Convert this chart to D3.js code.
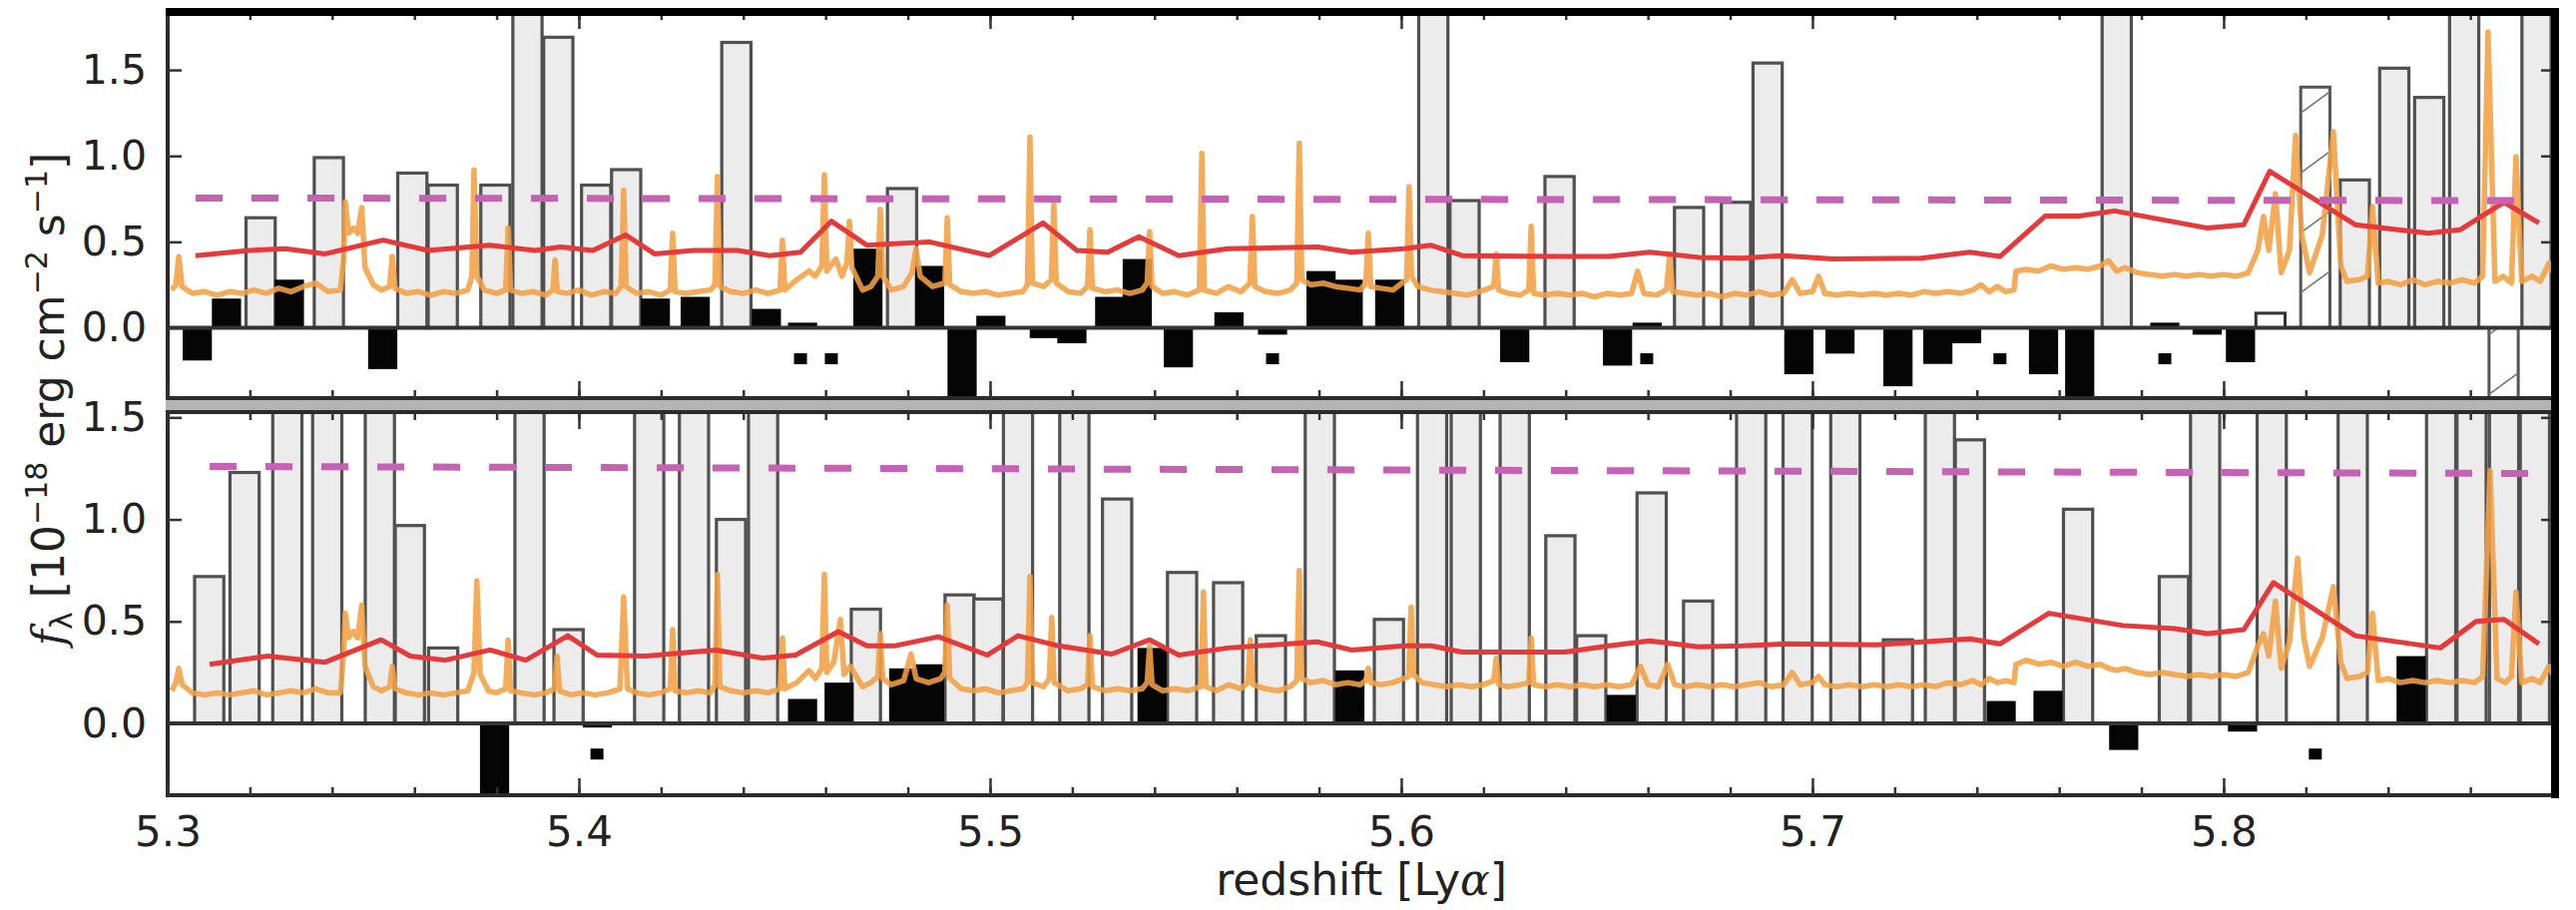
<!DOCTYPE html>
<html>
<head>
<meta charset="utf-8">
<script src="https://cdn.jsdelivr.net/npm/d3@7"></script>
<style>
  body { margin: 0; background: #fff; }
  svg { display: block; }
  text { font-family: "DejaVu Sans", sans-serif; fill: #222; }
</style>
</head>
<body>
<div id="chart"></div>
<script>
// ---- data ------------------------------------------------------------------
var majorTicks = [5.3, 5.4, 5.5, 5.6, 5.7, 5.8];
var majorLabels = ['5.3', '5.4', '5.5', '5.6', '5.7', '5.8'];
var fluxTicks = [0, 0.5, 1.0, 1.5];
var fluxLabels = ['0.0', '0.5', '1.0', '1.5'];

// top panel: bins (redshift centre, flux); off-scale bins given 2.5
var topGrayZ = [5.3226,5.3392,5.3595,5.3669,5.3797,5.3875,5.3950,5.4042,5.4115,5.4383,5.4786,5.6078,5.6154,5.6385,5.6700,5.6814,5.6891,5.7740,5.8319,5.8415,5.8500,5.8585,5.8761];
var topGrayF = [0.64,0.99,0.90,0.83,0.83,2.5,1.69,0.83,0.92,1.66,0.81,2.5,0.74,0.88,0.70,0.73,1.54,2.5,0.86,1.51,1.34,2.5,2.5];
var topBlackZ = [5.3072,5.3143,5.3296,5.3523,5.4186,5.4283,5.4456,5.4544,5.4703,5.4853,5.4932,5.5002,5.5132,5.5199,5.5291,5.5358,5.5458,5.5581,5.5687,5.5805,5.5871,5.5972,5.6276,5.6526,5.6598,5.6967,5.7067,5.7208,5.7305,5.7375,5.7562,5.7650,5.7857,5.7960,5.8041];
var topBlackF = [-0.19,0.17,0.28,-0.24,0.17,0.18,0.11,0.03,0.46,0.36,-0.6,0.07,-0.06,-0.09,0.18,0.40,-0.23,0.09,-0.04,0.33,0.28,0.28,-0.20,-0.22,0.03,-0.27,-0.15,-0.34,-0.21,-0.09,-0.27,-0.6,0.03,-0.04,-0.20];
var topSquareZ = [5.4539,5.4614,5.5687,5.6597,5.7456,5.7857];
var topSquareF = -0.18;
var topOpenZ = [5.8114], topOpenF = [0.085];
var topHatchZ = [5.8223,5.8681], topHatchF = [1.40,-0.6];

// bottom panel
var botGrayZ = [5.3101,5.3187,5.3291,5.3388,5.3516,5.3589,5.3670,5.3880,5.3975,5.4171,5.4280,5.4370,5.4448,5.4698,5.4926,5.4996,5.5068,5.5205,5.5309,5.5467,5.5579,5.5683,5.5802,5.5970,5.6075,5.6157,5.6276,5.6387,5.6462,5.6609,5.6722,5.6851,5.6964,5.7080,5.7208,5.7310,5.7383,5.7646,5.7879,5.7955,5.8117,5.8314,5.8529,5.8603,5.8682,5.8757];
var botGrayF = [0.72,1.23,2.2,2.2,2.2,0.97,0.37,2.2,0.46,2.2,2.2,1.00,2.2,0.56,0.63,0.61,2.2,2.2,1.10,0.74,0.69,0.43,2.2,0.51,2.2,2.2,2.2,0.92,0.43,1.13,0.60,2.2,2.2,2.2,0.41,2.2,1.39,1.05,0.72,2.2,2.2,2.2,2.2,2.2,2.2,2.2];
var botBlackZ = [5.3795,5.4045,5.4544,5.4633,5.4790,5.4853,5.5394,5.5875,5.6535,5.7459,5.7573,5.7757,5.8046,5.8228,5.8456];
var botBlackF = [-0.6,-0.02,0.12,0.20,0.27,0.29,0.37,0.26,0.14,0.11,0.16,-0.13,-0.04,0.01,0.33];
var botSquareZ = [5.4044,5.8223];
var botSquareF = -0.15;

// red curves
var redTopZ = [5.3068,5.3199,5.3286,5.3383,5.3524,5.3633,5.3784,5.3893,5.3956,5.4034,5.4114,5.4184,5.4279,5.4386,5.4464,5.4539,5.4614,5.4701,5.4852,5.4998,5.5129,5.5211,5.5286,5.5362,5.5459,5.5578,5.5796,5.5879,5.6007,5.6073,5.6148,5.6398,5.6505,5.6604,5.6723,5.6830,5.6930,5.7049,5.7265,5.7383,5.7456,5.7566,5.7648,5.7735,5.7961,5.8049,5.8112,5.8320,5.8498,5.8575,5.8682,5.8767];
var redTopF = [0.42,0.45,0.46,0.43,0.51,0.45,0.48,0.45,0.47,0.45,0.54,0.43,0.45,0.45,0.42,0.44,0.62,0.48,0.50,0.42,0.61,0.45,0.44,0.53,0.42,0.46,0.47,0.44,0.46,0.48,0.42,0.415,0.415,0.44,0.41,0.405,0.42,0.40,0.405,0.44,0.415,0.65,0.65,0.68,0.58,0.60,0.91,0.60,0.55,0.57,0.73,0.61];
var redBotZ = [5.3102,5.3243,5.3383,5.3519,5.3590,5.3675,5.3784,5.3871,5.3973,5.4044,5.4163,5.4333,5.4447,5.4527,5.4631,5.4701,5.4767,5.4874,5.4993,5.5068,5.5167,5.5296,5.5388,5.5459,5.5578,5.5796,5.5879,5.6007,5.6073,5.6148,5.6398,5.6505,5.6604,5.6723,5.6830,5.6939,5.7155,5.7383,5.7456,5.7575,5.7755,5.7881,5.7961,5.8049,5.8121,5.8320,5.8527,5.8614,5.8682,5.8767];
var redBotF = [0.29,0.33,0.30,0.41,0.33,0.31,0.36,0.31,0.43,0.335,0.33,0.36,0.32,0.335,0.45,0.38,0.38,0.425,0.335,0.43,0.38,0.34,0.41,0.335,0.37,0.40,0.36,0.38,0.38,0.35,0.35,0.38,0.405,0.375,0.38,0.39,0.385,0.415,0.39,0.54,0.48,0.465,0.44,0.46,0.69,0.43,0.37,0.50,0.51,0.39];

// dashed limits
var limitTopZ = [5.3068,5.8745], limitTopF = [0.755,0.74];
var limitBotZ = [5.3102,5.8765], limitBotF = [1.26,1.225];

// orange sky spectrum [z, f]
var skyTop = [[5.3010,0.22],[5.3020,0.25],[5.3027,0.415],[5.3035,0.24],[5.3060,0.20],[5.3090,0.21],[5.3120,0.19],[5.3150,0.21],[5.3180,0.20],[5.3210,0.22],[5.3240,0.20],[5.3270,0.23],[5.3300,0.21],[5.3330,0.24],[5.3360,0.26],[5.3390,0.21],[5.3420,0.22],[5.3428,0.40],[5.3432,0.734],[5.3440,0.55],[5.3452,0.58],[5.3462,0.55],[5.3472,0.70],[5.3480,0.35],[5.3500,0.25],[5.3520,0.22],[5.3540,0.24],[5.3546,0.415],[5.3553,0.23],[5.3580,0.20],[5.3610,0.21],[5.3640,0.19],[5.3670,0.21],[5.3700,0.20],[5.3730,0.22],[5.3740,0.30],[5.3745,0.919],[5.3752,0.30],[5.3770,0.22],[5.3800,0.20],[5.3822,0.22],[5.3828,0.58],[5.3834,0.22],[5.3860,0.20],[5.3890,0.21],[5.3920,0.19],[5.3937,0.22],[5.3942,0.395],[5.3948,0.21],[5.3970,0.20],[5.4000,0.22],[5.4030,0.19],[5.4060,0.21],[5.4090,0.20],[5.4103,0.24],[5.4109,0.80],[5.4115,0.24],[5.4140,0.20],[5.4170,0.21],[5.4200,0.19],[5.4222,0.22],[5.4228,0.55],[5.4234,0.21],[5.4260,0.20],[5.4290,0.21],[5.4320,0.22],[5.4331,0.25],[5.4337,0.88],[5.4343,0.24],[5.4370,0.21],[5.4400,0.20],[5.4430,0.22],[5.4460,0.20],[5.4489,0.22],[5.4495,0.51],[5.4501,0.22],[5.4530,0.28],[5.4560,0.33],[5.4575,0.30],[5.4591,0.36],[5.4597,0.89],[5.4603,0.33],[5.4625,0.40],[5.4640,0.30],[5.4652,0.38],[5.4658,0.62],[5.4664,0.35],[5.4690,0.22],[5.4710,0.24],[5.4727,0.30],[5.4733,0.69],[5.4739,0.30],[5.4760,0.22],[5.4790,0.24],[5.4810,0.32],[5.4820,0.46],[5.4830,0.30],[5.4860,0.24],[5.4890,0.26],[5.4896,0.64],[5.4902,0.25],[5.4930,0.21],[5.4960,0.20],[5.4990,0.21],[5.5020,0.19],[5.5050,0.20],[5.5080,0.21],[5.5091,0.25],[5.5097,1.11],[5.5103,0.26],[5.5130,0.24],[5.5149,0.28],[5.5155,0.715],[5.5161,0.26],[5.5190,0.21],[5.5220,0.20],[5.5237,0.24],[5.5243,0.57],[5.5249,0.23],[5.5280,0.21],[5.5310,0.22],[5.5340,0.20],[5.5370,0.22],[5.5382,0.26],[5.5388,0.56],[5.5394,0.24],[5.5420,0.20],[5.5450,0.21],[5.5480,0.19],[5.5509,0.22],[5.5515,1.015],[5.5521,0.22],[5.5550,0.20],[5.5580,0.24],[5.5610,0.21],[5.5632,0.26],[5.5638,0.647],[5.5644,0.24],[5.5670,0.21],[5.5700,0.20],[5.5730,0.22],[5.5746,0.26],[5.5752,1.074],[5.5758,0.28],[5.5780,0.25],[5.5810,0.26],[5.5840,0.24],[5.5870,0.23],[5.5900,0.22],[5.5914,0.26],[5.5920,0.55],[5.5926,0.24],[5.5950,0.23],[5.5980,0.22],[5.6013,0.28],[5.6019,0.82],[5.6025,0.30],[5.6040,0.24],[5.6070,0.22],[5.6100,0.21],[5.6130,0.20],[5.6160,0.19],[5.6190,0.21],[5.6225,0.24],[5.6231,0.43],[5.6237,0.22],[5.6260,0.20],[5.6290,0.19],[5.6310,0.22],[5.6316,0.59],[5.6322,0.20],[5.6350,0.19],[5.6380,0.20],[5.6410,0.19],[5.6440,0.20],[5.6470,0.18],[5.6500,0.20],[5.6530,0.19],[5.6560,0.20],[5.6575,0.33],[5.6590,0.20],[5.6620,0.19],[5.6645,0.22],[5.6653,0.43],[5.6660,0.21],[5.6690,0.20],[5.6720,0.19],[5.6750,0.20],[5.6780,0.18],[5.6810,0.20],[5.6840,0.19],[5.6870,0.21],[5.6900,0.19],[5.6930,0.20],[5.6951,0.28],[5.6970,0.20],[5.7000,0.21],[5.7015,0.30],[5.7030,0.20],[5.7060,0.19],[5.7090,0.20],[5.7120,0.19],[5.7150,0.20],[5.7180,0.19],[5.7210,0.20],[5.7240,0.19],[5.7270,0.21],[5.7300,0.20],[5.7330,0.21],[5.7360,0.20],[5.7390,0.22],[5.7410,0.25],[5.7430,0.21],[5.7450,0.24],[5.7470,0.21],[5.7490,0.22],[5.7495,0.33],[5.7520,0.34],[5.7550,0.33],[5.7580,0.36],[5.7610,0.34],[5.7640,0.35],[5.7670,0.34],[5.7700,0.36],[5.7720,0.39],[5.7740,0.33],[5.7760,0.35],[5.7790,0.32],[5.7820,0.31],[5.7850,0.30],[5.7880,0.31],[5.7910,0.30],[5.7940,0.31],[5.7970,0.30],[5.8000,0.31],[5.8030,0.30],[5.8060,0.32],[5.8083,0.45],[5.8097,0.647],[5.8110,0.45],[5.8126,0.78],[5.8140,0.32],[5.8160,0.45],[5.8175,1.12],[5.8190,0.54],[5.8209,0.32],[5.8240,0.54],[5.8267,1.14],[5.8285,0.36],[5.8300,0.27],[5.8330,0.28],[5.8350,0.30],[5.8362,0.705],[5.8376,0.26],[5.8400,0.27],[5.8430,0.25],[5.8460,0.28],[5.8490,0.25],[5.8520,0.27],[5.8550,0.26],[5.8580,0.28],[5.8610,0.26],[5.8630,0.30],[5.8643,1.72],[5.8660,0.27],[5.8680,0.30],[5.8700,0.26],[5.8711,0.996],[5.8725,0.27],[5.8750,0.30],[5.8770,0.27],[5.8791,0.376],[5.8806,0.30]];
var skyBot = [[5.3010,0.16],[5.3020,0.20],[5.3027,0.27],[5.3035,0.19],[5.3060,0.15],[5.3090,0.14],[5.3120,0.15],[5.3150,0.14],[5.3180,0.15],[5.3210,0.16],[5.3240,0.14],[5.3270,0.15],[5.3300,0.16],[5.3330,0.15],[5.3360,0.17],[5.3390,0.15],[5.3420,0.15],[5.3428,0.35],[5.3432,0.54],[5.3440,0.42],[5.3452,0.45],[5.3462,0.42],[5.3472,0.58],[5.3480,0.28],[5.3500,0.18],[5.3520,0.16],[5.3540,0.18],[5.3546,0.28],[5.3553,0.17],[5.3580,0.15],[5.3610,0.14],[5.3640,0.15],[5.3670,0.14],[5.3700,0.15],[5.3730,0.16],[5.3745,0.25],[5.3752,0.70],[5.3760,0.24],[5.3780,0.16],[5.3800,0.15],[5.3822,0.17],[5.3828,0.41],[5.3834,0.16],[5.3860,0.15],[5.3890,0.14],[5.3920,0.15],[5.3941,0.17],[5.3947,0.33],[5.3953,0.16],[5.3980,0.14],[5.4010,0.15],[5.4040,0.14],[5.4070,0.15],[5.4100,0.17],[5.4109,0.62],[5.4118,0.17],[5.4140,0.15],[5.4170,0.14],[5.4200,0.15],[5.4222,0.17],[5.4228,0.46],[5.4234,0.16],[5.4260,0.15],[5.4290,0.16],[5.4320,0.15],[5.4331,0.19],[5.4337,0.73],[5.4343,0.18],[5.4370,0.16],[5.4400,0.15],[5.4430,0.16],[5.4460,0.15],[5.4489,0.17],[5.4495,0.42],[5.4501,0.17],[5.4530,0.20],[5.4560,0.26],[5.4575,0.22],[5.4591,0.27],[5.4597,0.73],[5.4603,0.25],[5.4620,0.30],[5.4636,0.51],[5.4645,0.24],[5.4660,0.28],[5.4690,0.18],[5.4710,0.20],[5.4727,0.23],[5.4733,0.44],[5.4739,0.22],[5.4760,0.19],[5.4790,0.21],[5.4808,0.34],[5.4820,0.22],[5.4850,0.20],[5.4880,0.22],[5.4890,0.25],[5.4896,0.58],[5.4902,0.22],[5.4930,0.17],[5.4960,0.16],[5.4990,0.17],[5.5020,0.15],[5.5050,0.16],[5.5080,0.17],[5.5091,0.20],[5.5097,0.72],[5.5103,0.20],[5.5130,0.18],[5.5144,0.22],[5.5150,0.52],[5.5156,0.20],[5.5190,0.16],[5.5220,0.17],[5.5237,0.19],[5.5243,0.43],[5.5249,0.18],[5.5280,0.16],[5.5310,0.17],[5.5340,0.16],[5.5370,0.17],[5.5382,0.20],[5.5388,0.38],[5.5394,0.19],[5.5420,0.16],[5.5450,0.17],[5.5480,0.16],[5.5513,0.18],[5.5519,0.645],[5.5525,0.18],[5.5550,0.16],[5.5580,0.19],[5.5610,0.17],[5.5627,0.20],[5.5633,0.41],[5.5639,0.19],[5.5670,0.17],[5.5700,0.16],[5.5730,0.18],[5.5746,0.21],[5.5752,0.75],[5.5758,0.22],[5.5780,0.20],[5.5810,0.21],[5.5840,0.19],[5.5870,0.20],[5.5900,0.19],[5.5914,0.21],[5.5920,0.27],[5.5926,0.20],[5.5950,0.19],[5.5980,0.20],[5.6018,0.23],[5.6024,0.57],[5.6030,0.24],[5.6050,0.20],[5.6080,0.19],[5.6110,0.18],[5.6140,0.19],[5.6170,0.18],[5.6200,0.19],[5.6225,0.21],[5.6231,0.32],[5.6237,0.19],[5.6260,0.18],[5.6290,0.19],[5.6310,0.20],[5.6316,0.42],[5.6322,0.19],[5.6350,0.18],[5.6380,0.19],[5.6410,0.18],[5.6440,0.19],[5.6470,0.18],[5.6500,0.19],[5.6530,0.18],[5.6560,0.19],[5.6582,0.28],[5.6600,0.19],[5.6625,0.18],[5.6648,0.29],[5.6665,0.19],[5.6690,0.18],[5.6720,0.19],[5.6750,0.18],[5.6780,0.19],[5.6810,0.18],[5.6840,0.19],[5.6870,0.20],[5.6900,0.18],[5.6930,0.19],[5.6951,0.25],[5.6970,0.19],[5.7000,0.20],[5.7015,0.23],[5.7030,0.19],[5.7060,0.18],[5.7090,0.19],[5.7120,0.18],[5.7150,0.19],[5.7180,0.18],[5.7210,0.19],[5.7240,0.18],[5.7270,0.19],[5.7300,0.18],[5.7330,0.20],[5.7360,0.19],[5.7390,0.21],[5.7410,0.19],[5.7430,0.22],[5.7450,0.20],[5.7470,0.21],[5.7490,0.20],[5.7495,0.29],[5.7520,0.31],[5.7550,0.29],[5.7580,0.30],[5.7610,0.28],[5.7640,0.30],[5.7670,0.28],[5.7700,0.29],[5.7720,0.27],[5.7740,0.26],[5.7760,0.27],[5.7790,0.25],[5.7820,0.24],[5.7850,0.25],[5.7880,0.24],[5.7910,0.23],[5.7940,0.24],[5.7970,0.23],[5.8000,0.24],[5.8030,0.23],[5.8060,0.25],[5.8083,0.38],[5.8097,0.44],[5.8110,0.33],[5.8126,0.60],[5.8140,0.27],[5.8160,0.40],[5.8180,0.81],[5.8195,0.42],[5.8209,0.28],[5.8240,0.42],[5.8267,0.67],[5.8285,0.30],[5.8300,0.22],[5.8330,0.23],[5.8350,0.25],[5.8362,0.54],[5.8376,0.21],[5.8400,0.22],[5.8430,0.20],[5.8460,0.21],[5.8490,0.20],[5.8520,0.21],[5.8550,0.20],[5.8580,0.21],[5.8610,0.20],[5.8630,0.23],[5.8648,1.24],[5.8665,0.22],[5.8685,0.20],[5.8700,0.23],[5.8711,0.645],[5.8725,0.20],[5.8750,0.22],[5.8770,0.20],[5.8791,0.28],[5.8806,0.22]];

// ---- drawing ---------------------------------------------------------------
var width = 2581, height = 912;
var left = 168, right = 2560;
var binW = 0.0071;

var x = d3.scaleLinear().domain([5.3, 5.8806]).range([left, right]);

var svg = d3.select('#chart').append('svg')
    .attr('width', width)
    .attr('height', height);

var defs = svg.append('defs');
defs.append('pattern')
    .attr('id', 'hatch')
    .attr('patternUnits', 'userSpaceOnUse')
    .attr('width', 82).attr('height', 60)
  .append('path')
    .attr('d', 'M0,60L82,0')
    .attr('stroke', '#777')
    .attr('stroke-width', 1.6);

// grey strip between the two panels
svg.append('rect')
    .attr('x', left - 2).attr('y', 399)
    .attr('width', right - left + 4).attr('height', 14)
    .attr('fill', '#b4b4b4');

var panels = [
  {id: 'top', top: 12, bottom: 399, dom: [-0.409, 1.837],
   gray: d3.zip(topGrayZ, topGrayF), black: d3.zip(topBlackZ, topBlackF),
   squares: topSquareZ, sqF: topSquareF,
   open: d3.zip(topOpenZ, topOpenF), hatch: d3.zip(topHatchZ, topHatchF),
   sky: skyTop, red: d3.zip(redTopZ, redTopF), limit: d3.zip(limitTopZ, limitTopF)},
  {id: 'bot', top: 413, bottom: 797, dom: [-0.352, 1.526],
   gray: d3.zip(botGrayZ, botGrayF), black: d3.zip(botBlackZ, botBlackF),
   squares: botSquareZ, sqF: botSquareF,
   open: [], hatch: [],
   sky: skyBot, red: d3.zip(redBotZ, redBotF), limit: d3.zip(limitBotZ, limitBotF)}
];

function bars(g, data, cls, y) {
  return g.selectAll('rect.' + cls)
    .data(data)
    .join('rect')
      .attr('class', cls)
      .attr('x', function(d) { return x(d[0] - binW / 2); })
      .attr('width', function(d) { return x(d[0] + binW / 2) - x(d[0] - binW / 2); })
      .attr('y', function(d) { return y(Math.max(0, d[1])); })
      .attr('height', function(d) { return Math.abs(y(d[1]) - y(0)); });
}

panels.forEach(function(p) {
  var y = d3.scaleLinear().domain(p.dom).range([p.bottom, p.top]);

  defs.append('clipPath').attr('id', 'clip-' + p.id)
    .append('rect')
      .attr('x', left).attr('y', p.top)
      .attr('width', right - left).attr('height', p.bottom - p.top);

  var g = svg.append('g').attr('clip-path', 'url(#clip-' + p.id + ')');

  bars(g, p.gray, 'gray', y)
      .attr('fill', '#ececec')
      .attr('stroke', '#505050')
      .attr('stroke-width', 3.2);

  bars(g, p.open, 'open', y)
      .attr('fill', '#fff')
      .attr('stroke', '#333')
      .attr('stroke-width', 3);

  bars(g, p.hatch, 'hatchbg', y)
      .attr('fill', '#fff')
      .attr('stroke', '#555')
      .attr('stroke-width', 3);
  bars(g, p.hatch, 'hatchfg', y)
      .attr('fill', 'url(#hatch)');

  bars(g, p.black, 'black', y)
      .attr('fill', '#050505');

  g.append('line')
      .attr('x1', left).attr('x2', right)
      .attr('y1', y(0)).attr('y2', y(0))
      .attr('stroke', '#333').attr('stroke-width', 4);

  g.selectAll('rect.sq')
    .data(p.squares)
    .join('rect')
      .attr('class', 'sq')
      .attr('x', function(d) { return x(d) - 6.5; })
      .attr('y', y(p.sqF) - 5.5)
      .attr('width', 13).attr('height', 11)
      .attr('fill', '#050505');

  var line = d3.line()
      .x(function(d) { return x(d[0]); })
      .y(function(d) { return y(d[1]); });

  g.append('path')
      .datum(p.sky)
      .attr('d', line)
      .attr('fill', 'none')
      .attr('stroke', '#f4a043')
      .attr('stroke-opacity', 0.88)
      .attr('stroke-width', 5.5)
      .attr('stroke-linejoin', 'round');

  g.append('path')
      .datum(p.red)
      .attr('d', line)
      .attr('fill', 'none')
      .attr('stroke', '#e8393a')
      .attr('stroke-width', 5)
      .attr('stroke-linejoin', 'round');

  g.append('path')
      .datum(p.limit)
      .attr('d', line)
      .attr('fill', 'none')
      .attr('stroke', '#c562b4')
      .attr('stroke-width', 7)
      .attr('stroke-dasharray', '27,29');

  // spines
  svg.append('rect')
      .attr('x', left).attr('y', p.top)
      .attr('width', right - left).attr('height', p.bottom - p.top)
      .attr('fill', 'none')
      .attr('stroke', '#2b2b2b')
      .attr('stroke-width', 4);

  // ticks, all pointing inwards
  var minor = x.ticks(30);
  function styleAxis(a) {
    a.select('.domain').remove();
    a.selectAll('line').attr('stroke', '#333').attr('stroke-width', 2.5);
  }
  [[d3.axisBottom, p.bottom], [d3.axisTop, p.top]].forEach(function(o) {
    svg.append('g').attr('transform', 'translate(0,' + o[1] + ')')
        .call(o[0](x).tickValues(minor).tickSize(-8).tickFormat(''))
        .call(styleAxis);
    svg.append('g').attr('transform', 'translate(0,' + o[1] + ')')
        .call(o[0](x).tickValues(majorTicks).tickSize(-17).tickFormat(''))
        .call(styleAxis);
  });

  svg.append('g').attr('transform', 'translate(' + left + ',0)')
      .call(d3.axisLeft(y).tickValues(fluxTicks).tickSize(-14).tickPadding(21)
              .tickFormat(function(d, i) { return fluxLabels[i]; }))
      .call(styleAxis)
      .attr('font-family', 'DejaVu Sans')
      .attr('font-size', 41)
      .selectAll('text').attr('fill', '#222');

  svg.append('g').attr('transform', 'translate(' + right + ',0)')
      .call(d3.axisRight(y).tickValues(fluxTicks).tickSize(-14).tickFormat(''))
      .call(styleAxis);

  if (p.id === 'bot') {
    svg.append('g').attr('transform', 'translate(0,' + p.bottom + ')')
        .call(d3.axisBottom(x).tickValues(majorTicks).tickSize(0).tickPadding(21)
                .tickFormat(function(d, i) { return majorLabels[i]; }))
        .call(styleAxis)
        .attr('font-family', 'DejaVu Sans')
        .attr('font-size', 42)
        .selectAll('text').attr('fill', '#222');
  }
});

// heavy outer frame on the top and right edges
svg.append('line')
    .attr('x1', left - 2).attr('x2', right + 4)
    .attr('y1', 12).attr('y2', 12)
    .attr('stroke', '#000').attr('stroke-width', 8);
svg.append('line')
    .attr('x1', right).attr('x2', right)
    .attr('y1', 8).attr('y2', 800)
    .attr('stroke', '#000').attr('stroke-width', 8);

// axis labels
var xl = svg.append('text')
    .attr('x', (left + right) / 2)
    .attr('y', 897)
    .attr('text-anchor', 'middle')
    .attr('font-size', 44);
xl.append('tspan').text('redshift [Ly');
xl.append('tspan').attr('font-style', 'italic').attr('font-family', 'DejaVu Serif').text('α');
xl.append('tspan').text(']');

var yl = svg.append('text')
    .attr('transform', 'translate(64,400) rotate(-90)')
    .attr('text-anchor', 'middle')
    .attr('font-size', 44);
yl.append('tspan').attr('font-family', 'DejaVu Serif').attr('font-style', 'italic').text('f');
yl.append('tspan').attr('font-size', 30).attr('dy', 8).text('λ');
yl.append('tspan').attr('dy', -8).text(' [10');
yl.append('tspan').attr('font-size', 30).attr('dy', -17).text('−18');
yl.append('tspan').attr('dy', 17).text(' erg cm');
yl.append('tspan').attr('font-size', 30).attr('dy', -17).text('−2');
yl.append('tspan').attr('dy', 17).text(' s');
yl.append('tspan').attr('font-size', 30).attr('dy', -17).text('−1');
yl.append('tspan').attr('dy', 17).text(']');
</script>
</body>
</html>
